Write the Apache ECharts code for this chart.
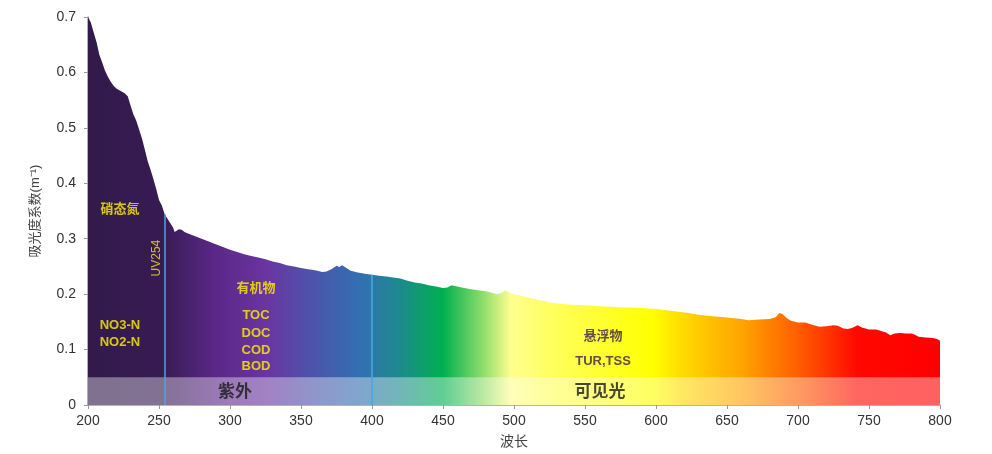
<!DOCTYPE html>
<html><head><meta charset="utf-8">
<script src="https://cdn.jsdelivr.net/npm/echarts@6/dist/echarts.min.js"></script>
<style>html,body{margin:0;padding:0;background:#fff;overflow:hidden}#c{width:992px;height:454px}</style>
</head><body><div id="c"></div>
<script>
const wavelengths = [200,202,204,206,208,210,212,214,216,218,220,222,224,226,228,230,232,234,236,238,240,242,244,246,248,250,252,254,256,258,260,261,262,264,266,268,270,275,280,285,290,295,300,305,310,315,320,325,330,335,340,345,350,355,360,365,368,372,375,377,379,382,385,390,395,400,405,410,415,420,425,430,435,440,445,450,453,456,460,465,470,475,480,485,488,491,494,496,500,505,510,515,520,525,530,540,550,560,570,580,590,600,610,620,625,630,640,650,660,665,670,680,684,687,689,692,695,700,705,710,715,720,725,728,732,735,738,742,745,750,755,758,762,765,768,772,776,780,782,785,790,795,798,800];
const absorbance = [0.700,0.690,0.672,0.655,0.632,0.618,0.603,0.592,0.583,0.576,0.571,0.568,0.565,0.562,0.557,0.540,0.524,0.513,0.497,0.481,0.461,0.440,0.425,0.408,0.390,0.370,0.360,0.344,0.336,0.328,0.320,0.312,0.314,0.317,0.316,0.312,0.310,0.305,0.300,0.295,0.290,0.285,0.280,0.276,0.272,0.269,0.266,0.263,0.259,0.256,0.252,0.250,0.247,0.245,0.243,0.240,0.241,0.246,0.251,0.249,0.252,0.247,0.242,0.239,0.237,0.235,0.233,0.232,0.230,0.228,0.224,0.221,0.219,0.216,0.214,0.211,0.212,0.216,0.214,0.211,0.209,0.207,0.205,0.202,0.200,0.202,0.207,0.204,0.200,0.197,0.194,0.191,0.188,0.185,0.183,0.181,0.180,0.178,0.177,0.176,0.175,0.173,0.170,0.167,0.165,0.163,0.160,0.158,0.155,0.153,0.154,0.155,0.158,0.166,0.164,0.157,0.152,0.149,0.149,0.145,0.141,0.142,0.144,0.143,0.138,0.137,0.139,0.144,0.140,0.136,0.136,0.134,0.131,0.126,0.129,0.130,0.129,0.129,0.127,0.123,0.122,0.121,0.119,0.116];
const markerLines = [254, 400];
const markerValues = [0.344, 0.235];
const bandTop = 0.05;
const xTicks = [200,250,300,350,400,450,500,550,600,650,700,750,800];
const yTicks = [0,0.1,0.2,0.3,0.4,0.5,0.6,0.7];

const yellowNotes = [
  {name:'硝态氮', x:222.5, y:0.352},
  {name:'NO3-N', x:222.5, y:0.143},
  {name:'NO2-N', x:222.5, y:0.112},
  {name:'有机物', x:318.3, y:0.211},
  {name:'TOC', x:318.3, y:0.161},
  {name:'DOC', x:318.3, y:0.130},
  {name:'COD', x:318.3, y:0.099},
  {name:'BOD', x:318.3, y:0.069}
];
const uvNote = {name:'UV254', x:248.6, y:0.265};
const darkNotes = [
  {name:'悬浮物', x:562.7, y:0.124},
  {name:'TUR,TSS', x:562.7, y:0.079}
];
const bandNotes = [
  {name:'紫外', x:303.5, y:0.022},
  {name:'可见光', x:560.6, y:0.022}
];

const colorStops = [
  [200,'#321a4b'],[252,'#371b53'],[290,'#5a2888'],[326,'#6a35a0'],[360,'#4b56ab'],[392,'#3270b2'],[420,'#1c8a8c'],[450,'#00b050'],[478,'#8edc6c'],[498,'#ffff90'],[525,'#ffff60'],[598,'#ffff00'],[620,'#ffd800'],[660,'#ffa400'],[700,'#ff5e00'],[742,'#ff0800'],[800,'#ff0000']
];

const chart = echarts.init(document.getElementById('c'));
const font = '"Liberation Sans","Noto Sans CJK SC",Arial,sans-serif';
const grad = new echarts.graphic.LinearGradient(0,0,1,0,
  colorStops.map(s=>({offset:(s[0]-200)/600, color:s[1]})));

function noteSeries(list, style){
  return {
    type:'scatter', symbolSize:0, z:10, silent:true,
    data:list.map(n=>({name:n.name, value:[n.x,n.y]})),
    label:Object.assign({show:true, position:'inside', formatter:'{b}', fontFamily:font}, style)
  };
}

chart.setOption({
  animation:false,
  grid:{left:88, right:52, top:17, bottom:42},
  xAxis:{
    type:'value', min:200, max:800, interval:50,
    name:'波长', nameLocation:'middle', nameGap:30,
    nameTextStyle:{fontSize:14, color:'#444', fontFamily:font},
    axisLine:{show:true, lineStyle:{color:'#9a9a9a', width:1.5}},
    axisTick:{show:true, length:4, lineStyle:{color:'#9a9a9a'}},
    axisLabel:{fontSize:14, color:'#333', fontFamily:font, margin:9},
    splitLine:{show:false}
  },
  yAxis:{
    type:'value', min:0, max:0.7, interval:0.1,
    name:'吸光度系数(m⁻¹)', nameLocation:'middle', nameGap:46,
    nameTextStyle:{fontSize:13, color:'#444', fontFamily:font},
    axisLine:{show:true, lineStyle:{color:'#9a9a9a', width:1.5}},
    axisTick:{show:true, length:4, lineStyle:{color:'#9a9a9a'}},
    axisLabel:{fontSize:14, color:'#333', fontFamily:font, margin:12,
      formatter:v=>(v===0?'0':String(+v.toFixed(1)))},
    splitLine:{show:false}
  },
  series:[
    {
      type:'line', showSymbol:false, symbol:'none', z:2, silent:true,
      data:wavelengths.map((w,i)=>[w,absorbance[i]]),
      lineStyle:{width:0},
      areaStyle:{color:grad, opacity:1},
      markLine:{
        silent:true, symbol:'none', label:{show:false},
        lineStyle:{color:'#45a7e6', width:1.5, type:'solid'},
        data:markerLines.map((w,i)=>[{coord:[w,0]},{coord:[w,markerValues[i]]}])
      }
    },
    {
      type:'line', showSymbol:false, symbol:'none', z:3, silent:true,
      data:[[200,bandTop],[800,bandTop]],
      lineStyle:{width:0},
      areaStyle:{color:'rgba(255,255,255,0.38)', opacity:1}
    },
    noteSeries(yellowNotes,{color:'#fff200', fontSize:13, fontWeight:'bold'}),
    noteSeries([uvNote],{color:'#f2ea10', fontSize:12, rotate:90}),
    noteSeries(darkNotes,{color:'#3b2050', fontSize:13, fontWeight:'bold'}),
    noteSeries(bandNotes,{color:'#1a1a1a', fontSize:17, fontWeight:'bold'})
  ]
});
</script></body></html>
